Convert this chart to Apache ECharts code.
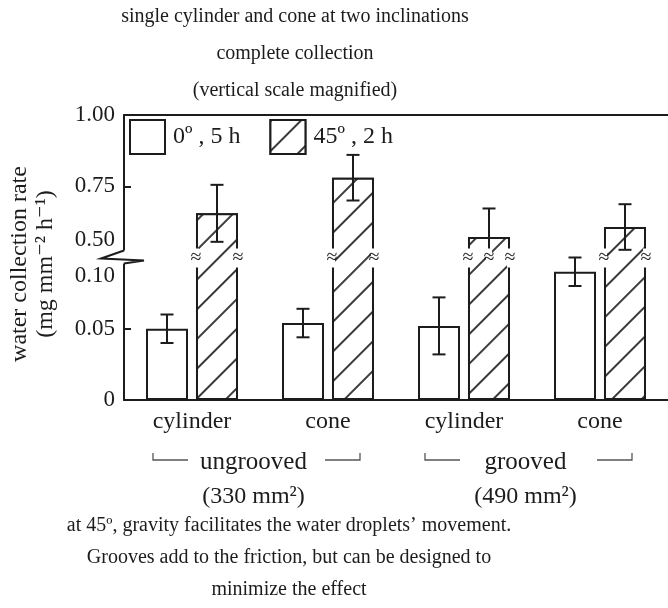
<!DOCTYPE html>
<html>
<head>
<meta charset="utf-8">
<script src="https://cdn.jsdelivr.net/npm/echarts@6/dist/echarts.min.js"></script>
<style>
html,body{margin:0;padding:0;background:#fff;}
#chart{width:668px;height:608px;}
</style>
</head>
<body>
<div id="chart"></div>
<script>
// ---- data ----
const categories = ['cylinder', 'cone', 'cylinder', 'cone'];
const groupNames = ['ungrooved', 'grooved'];
const groupAreas = ['(330 mm²)', '(490 mm²)'];
const seriesNames = ['0º , 5 h', '45º , 2 h'];
const rate0 = [0.050, 0.054, 0.052, 0.090];
const err0 = [0.010, 0.010, 0.020, 0.010];
const rate45 = [0.655, 0.780, 0.572, 0.607];
const err45 = [0.100, 0.080, 0.100, 0.080];
const yTickValues = [0, 0.05, 0.10, 0.50, 0.75, 1.00];
const yTickLabels = ['0', '0.05', '0.10', '0.50', '0.75', '1.00'];
const titleLines = ['single cylinder and cone at two inclinations', 'complete collection', '(vertical scale magnified)'];
const captionLines = ['at 45º, gravity facilitates the water droplets’ movement.', 'Grooves add to the friction, but can be designed to', 'minimize the effect'];
const yNameLines = ['water collection rate', '(mg mm⁻² h⁻¹)'];
const breakLow = 0.10, breakHigh = 0.50, upperScale = 5;

function toDisplay(v) {
  if (v <= breakLow) return v;
  if (v < breakHigh) return breakLow;
  return breakLow + (v - breakHigh) / upperScale;
}
const FONT = '"Liberation Serif", "DejaVu Serif", serif';
const INK = '#1c1c1c';
const BAR_W = 42, BAR_GAP = 8, OFF = (BAR_W + BAR_GAP) / 2;

const errData = [];
rate0.forEach((v, i) => errData.push([i, 0, v, err0[i]]));
rate45.forEach((v, i) => errData.push([i, 1, v, err45[i]]));

function renderErr(params, api) {
  const i = api.value(0), s = api.value(1), v = api.value(2), e = api.value(3);
  const off = s === 0 ? -OFF : OFF;
  const top = api.coord([i, toDisplay(v + e)]);
  const lowV = v - e;
  const low = api.coord([i, toDisplay(lowV)]);
  const x = top[0] + off;
  const ls = { stroke: INK, lineWidth: 2 };
  const children = [
    { type: 'line', shape: { x1: x, y1: top[1], x2: x, y2: low[1] }, style: ls },
    { type: 'line', shape: { x1: x - 6.5, y1: top[1], x2: x + 6.5, y2: top[1] }, style: ls }
  ];
  const lowInBreak = lowV > breakLow && lowV < breakHigh;
  if (!lowInBreak) {
    children.push({ type: 'line', shape: { x1: x - 6.5, y1: low[1], x2: x + 6.5, y2: low[1] }, style: ls });
  }
  if (v >= breakHigh) {
    const yb = api.coord([i, breakLow])[1];
    const xs = [x - BAR_W / 2, x + BAR_W / 2];
    if (lowInBreak) xs.push(x);
    xs.forEach(xx => {
      children.push({ type: 'rect', shape: { x: xx - 3, y: yb - 9, width: 6, height: 19 }, style: { fill: '#fff' } });
      children.push({ type: 'text', style: { text: '≈', x: xx, y: yb, fill: INK, font: '20px ' + FONT, align: 'center', verticalAlign: 'middle', textAlign: 'center', textVerticalAlign: 'middle' } });
    });
  }
  return { type: 'group', children: children };
}

const chart = echarts.init(document.getElementById('chart'), null, { renderer: 'canvas' });

const option = {
  animation: false,
  backgroundColor: '#fff',
  title: [
    { text: titleLines.join('\n'), left: 295, top: -2, textAlign: 'center', padding: 0,
      textStyle: { fontFamily: FONT, fontSize: 20, fontWeight: 'normal', color: INK, lineHeight: 37 } },
    { text: captionLines.join('\n'), left: 289, top: 510, textAlign: 'center', padding: 0,
      textStyle: { fontFamily: FONT, fontSize: 20, fontWeight: 'normal', color: INK, lineHeight: 32 } }
  ],
  legend: {
    left: 129, top: 119, padding: 0, itemWidth: 35, itemHeight: 34, itemGap: 29, icon: 'rect',
    data: seriesNames,
    itemStyle: { borderColor: INK, borderWidth: 2 },
    textStyle: { fontFamily: FONT, fontSize: 24, color: INK, padding: [0, 0, 0, 3] }
  },
  grid: { left: 124, right: 0, top: 115, bottom: 208, containLabel: false },
  xAxis: [
    { type: 'category', data: categories, position: 'bottom',
      axisLine: { lineStyle: { color: INK, width: 2 } }, axisTick: { show: false },
      axisLabel: { fontFamily: FONT, fontSize: 24, color: INK, margin: 10 } },
    { type: 'category', data: categories, position: 'top',
      axisLine: { lineStyle: { color: INK, width: 2 } }, axisTick: { show: false }, axisLabel: { show: false } }
  ],
  yAxis: {
    type: 'value', min: 0, max: toDisplay(1.00), interval: 0.05,
    splitLine: { show: false },
    axisLine: { show: true, lineStyle: { color: INK, width: 2 } },
    axisTick: { show: true, inside: true, length: 7, lineStyle: { color: INK, width: 2 } },
    axisLabel: {
      fontFamily: FONT, fontSize: 23, color: INK, margin: 9, lineHeight: 36,
      formatter: function (d) {
        const out = [];
        for (let k = yTickValues.length - 1; k >= 0; k--) {
          if (Math.abs(toDisplay(yTickValues[k]) - d) < 1e-9) out.push(yTickLabels[k]);
        }
        return out.join('\n');
      }
    }
  },
  series: [
    { name: seriesNames[0], type: 'bar', barWidth: BAR_W, barGap: (BAR_GAP / BAR_W * 100).toFixed(1) + '%',
      data: rate0.map(toDisplay),
      itemStyle: { color: '#fff', borderColor: INK, borderWidth: 2 } },
    { name: seriesNames[1], type: 'bar', barWidth: BAR_W,
      data: rate45.map(toDisplay),
      itemStyle: { color: '#fff', borderColor: INK, borderWidth: 2,
        decal: { symbol: 'rect', symbolSize: 1, dashArrayX: [1, 0], dashArrayY: [1.2, 18.8], rotation: -Math.PI / 4, color: '#3a3a3a', backgroundColor: '#fff' } } },
    { type: 'custom', renderItem: renderErr, data: errData, encode: { x: 0, y: 2 }, z: 5, clip: false, silent: true }
  ]
};
chart.setOption(option);

// annotation: axis break, y-axis name, group labels
function addAnnotations() {
  const gx = 124;
  const yb = chart.convertToPixel({ yAxisIndex: 0 }, toDisplay(breakLow));
  const g = [];
  g.push({ type: 'rect', shape: { x: gx - 4, y: yb - 7, width: 14, height: 13 }, style: { fill: '#fff' }, z: 100 });
  g.push({ type: 'polyline', shape: { points: [[gx, yb - 7], [gx - 23, yb + 1], [gx + 20, yb + 3], [gx, yb + 6]] },
    style: { stroke: INK, lineWidth: 2, fill: null }, z: 101 });
  // y axis name
  g.push({ type: 'text', x: 20, y: 264, rotation: Math.PI / 2, z: 100,
    style: { text: yNameLines[0], font: '24px ' + FONT, fill: INK, align: 'center', verticalAlign: 'middle' } });
  g.push({ type: 'text', x: 46, y: 264, rotation: Math.PI / 2, z: 100,
    style: { text: yNameLines[1], font: '24px ' + FONT, fill: INK, align: 'center', verticalAlign: 'middle' } });
  // group brackets
  const cx = categories.map((c, i) => chart.convertToPixel({ xAxisIndex: 0 }, i));
  const yBr = 460;
  for (let k = 0; k < groupNames.length; k++) {
    const a = cx[2 * k] - 39, b = cx[2 * k + 1] + 32;
    const mid = (a + b) / 2 - 3;
    const st = { stroke: '#555', lineWidth: 1.3, fill: null };
    g.push({ type: 'polyline', shape: { points: [[a, yBr - 7], [a, yBr], [a + 35, yBr]] }, style: st });
    g.push({ type: 'polyline', shape: { points: [[b - 35, yBr], [b, yBr], [b, yBr - 7]] }, style: st });
    g.push({ type: 'text', x: mid, y: 462, style: { text: groupNames[k], font: '25px ' + FONT, fill: INK, align: 'center', verticalAlign: 'middle' } });
    g.push({ type: 'text', x: mid, y: 497, style: { text: groupAreas[k], font: '24px ' + FONT, fill: INK, align: 'center', verticalAlign: 'middle' } });
  }
  chart.setOption({ graphic: g });
}
addAnnotations();
</script>
</body>
</html>
